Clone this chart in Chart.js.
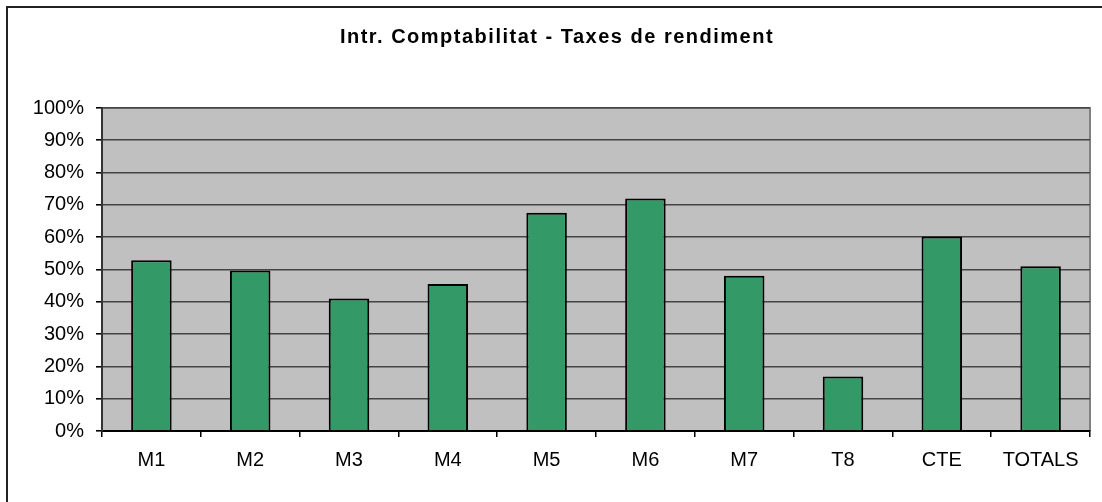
<!DOCTYPE html>
<html>
<head>
<meta charset="utf-8">
<script src="https://cdn.jsdelivr.net/npm/chart.js@4/dist/chart.umd.min.js"></script>
<style>
  html, body { margin: 0; padding: 0; background: #fff; }
  #wrap { position: relative; width: 1102px; height: 502px; overflow: hidden; }
  #frame { position: absolute; left: 6px; top: 6px; width: 1200px; height: 600px;
           border-top: 2px solid #222; border-left: 2px solid #222; box-sizing: border-box; pointer-events: none; }
  canvas { position: absolute; left: 0; top: 0; }
</style>
</head>
<body>
<div id="wrap">
  <canvas id="c" width="1102" height="502"></canvas>
  <div id="frame"></div>
</div>
<script>
const titleText = 'Intr. Comptabilitat - Taxes de rendiment';
const categories = ['M1', 'M2', 'M3', 'M4', 'M5', 'M6', 'M7', 'T8', 'CTE', 'TOTALS'];
const rates = [52.9, 49.7, 41.0, 45.5, 67.6, 72.0, 48.1, 16.9, 60.2, 51.0];
const yTicks = [0, 10, 20, 30, 40, 50, 60, 70, 80, 90, 100];

const FONT = "'Liberation Sans', Arial, sans-serif";

const plotBg = {
  id: 'plotBg',
  beforeDraw(chart) {
    const { ctx, chartArea: a } = chart;
    ctx.save();
    ctx.fillStyle = '#C0C0C0';
    ctx.fillRect(a.left, a.top, a.right - a.left, a.bottom - a.top);
    ctx.strokeStyle = '#808080';
    ctx.lineWidth = 2;
    ctx.beginPath();
    ctx.moveTo(a.left, a.top);
    ctx.lineTo(a.right, a.top);
    ctx.lineTo(a.right, a.bottom);
    ctx.stroke();
    ctx.restore();
    if (chart.titleBlock && !chart.titleBlock._wrapped) {
      const tb = chart.titleBlock;
      const orig = tb.draw.bind(tb);
      tb.draw = function () {
        const c = chart.ctx;
        c.save();
        c.translate(12, 1);
        c.letterSpacing = '1.5px';
        orig();
        c.restore();
      };
      tb._wrapped = true;
    }
  }
};

new Chart(document.getElementById('c'), {
  type: 'bar',
  data: {
    labels: categories,
    datasets: [{
      data: rates,
      backgroundColor: '#339966',
      borderColor: '#000000',
      borderWidth: 2,
      barPercentage: 0.41,
      categoryPercentage: 1.0
    }]
  },
  options: {
    responsive: false,
    animation: false,
    devicePixelRatio: 1,
    layout: { padding: { left: 0, right: 12, top: 0, bottom: 0 } },
    plugins: {
      legend: { display: false },
      tooltip: { enabled: false },
      title: {
        display: true,
        text: titleText,
        color: '#000',
        font: { family: FONT, size: 20, weight: 'bold', lineHeight: 1.2 },
        padding: { top: 24, bottom: 60 }
      }
    },
    scales: {
      x: {
        grid: { display: true, drawOnChartArea: false, drawTicks: true, offset: true, tickLength: 6, color: '#000', lineWidth: 1.5 },
        border: { display: true, color: '#000', width: 2 },
        ticks: { color: '#000', font: { family: FONT, size: 20 }, padding: 11, maxRotation: 0, autoSkip: false },
        afterFit(s) { s.height = 71; }
      },
      y: {
        min: 0,
        max: 100,
        afterBuildTicks(s) { s.ticks = yTicks.map(v => ({ value: v })); },
        grid: { color: '#444', lineWidth: 1.6, tickLength: 6, tickColor: '#000', drawTicks: true },
        border: { display: true, color: '#333', width: 2 },
        ticks: { color: '#000', font: { family: FONT, size: 20 }, padding: 12, callback: v => v + '%' },
        afterFit(s) { s.width = 102; }
      }
    }
  },
  plugins: [plotBg]
});
</script>
</body>
</html>
